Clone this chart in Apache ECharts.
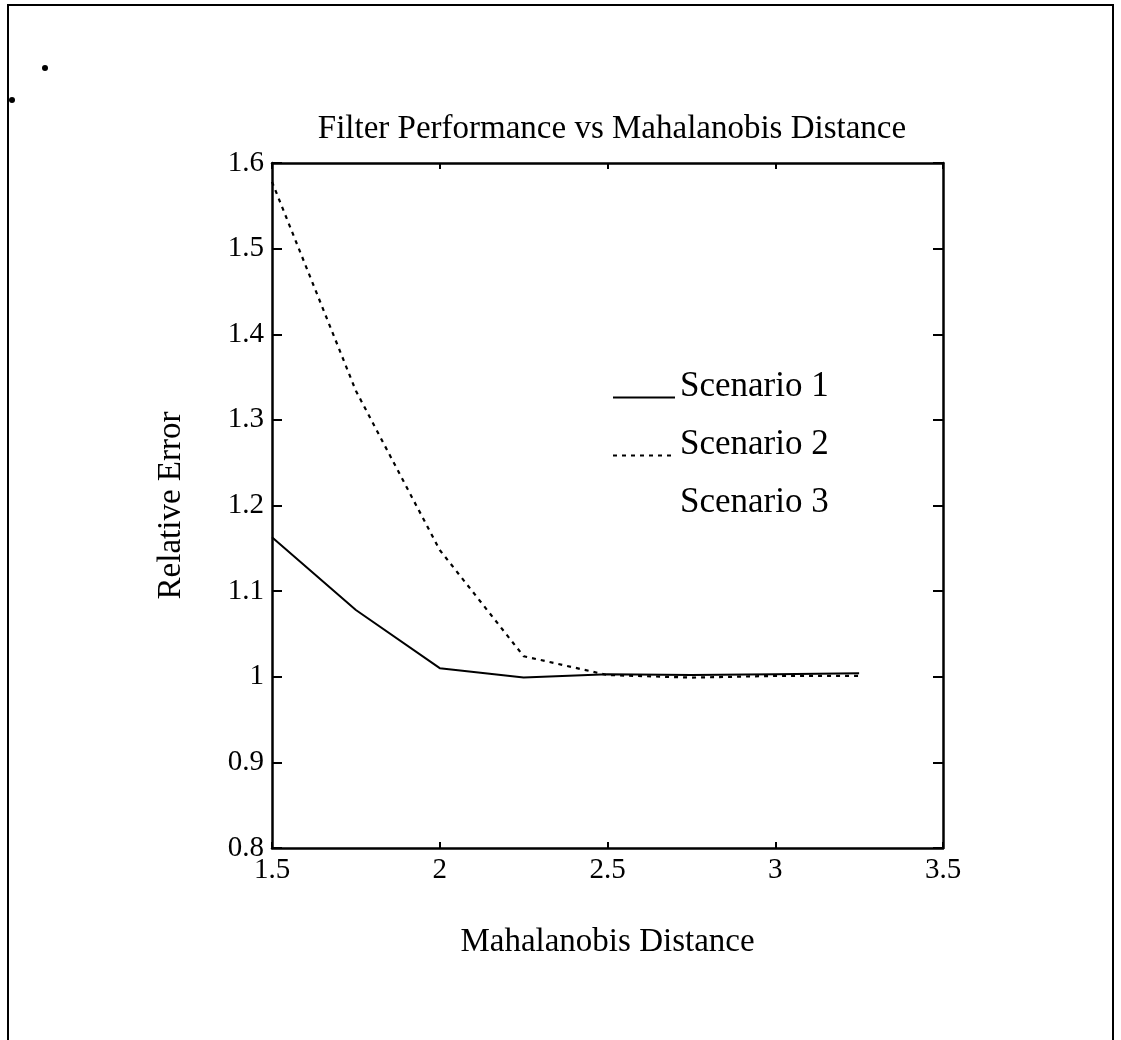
<!DOCTYPE html>
<html>
<head>
<meta charset="utf-8">
<title>Filter Performance vs Mahalanobis Distance</title>
<script src="https://cdn.jsdelivr.net/npm/echarts@6/dist/echarts.min.js"></script>
<style>
	html, body { margin: 0; padding: 0; background: #fff; }
	#myChart { width: 1121px; height: 1040px; }
</style>
</head>
<body>
<div id="myChart"></div>
<script>
// values
var distance = [1.5, 1.75, 2.0, 2.25, 2.5, 2.75, 3.0, 3.25];
var scenario1 = [1.163, 1.078, 1.010, 0.999, 1.003, 1.002, 1.003, 1.004];
var scenario2 = [1.578, 1.334, 1.148, 1.024, 1.002, 0.999, 1.001, 1.001];
var scenario3 = [];
var xTicks = ['1.5', '2', '2.5', '3', '3.5'];
var yTicks = ['0.8', '0.9', '1', '1.1', '1.2', '1.3', '1.4', '1.5', '1.6'];
var names = ['Scenario 1', 'Scenario 2', 'Scenario 3'];

(function(window, undefined) {
	var font = '"Liberation Serif", "Times New Roman", serif';

	var pairs = function(xs, ys) {
		var out = [];
		for (var i = 0; i < ys.length; i++) {
			out.push([xs[i], ys[i]]);
		}
		return out;
	};

	var axisLine = { show: true, onZero: false, lineStyle: { color: '#000', width: 2.5 } };

	// one legend per entry; the empty second text line lifts the name
	// so the sample line ends up on its baseline, like the original
	var legendAt = function(name, top) {
		return {
			data: [name],
			orient: 'vertical',
			left: 607,
			top: top,
			itemWidth: 62,
			itemHeight: 12,
			selectedMode: false,
			itemStyle: { opacity: 0 },
			formatter: function(n) { return n + '\n'; },
			textStyle: { fontFamily: font, fontSize: 35, lineHeight: 22, color: '#000' }
		};
	};

	var chart = function() {
		var myChart = echarts.init(document.getElementById('myChart'));
		var option = {
			backgroundColor: '#fff',
			animation: false,
			title: {
				text: 'Filter Performance vs Mahalanobis Distance',
				left: 607,
				top: 108,
				textAlign: 'center',
				textStyle: { fontFamily: font, fontSize: 33, fontWeight: 'normal', color: '#000' }
			},
			legend: [
				legendAt(names[0], 364),
				legendAt(names[1], 422),
				legendAt(names[2], 480)
			],
			grid: { left: 272, right: 178, top: 163, bottom: 192 },
			xAxis: [{
				type: 'value',
				min: 1.5,
				max: 3.5,
				interval: 0.5,
				name: 'Mahalanobis Distance',
				nameLocation: 'middle',
				nameGap: 78,
				nameTextStyle: { fontFamily: font, fontSize: 33, color: '#000' },
				axisLine: axisLine,
				axisTick: { show: true, inside: true, length: 6, lineStyle: { color: '#000', width: 2 } },
				axisLabel: {
					fontFamily: font, fontSize: 29, color: '#000', margin: 8,
					formatter: function(v) { return xTicks[Math.round((v - 1.5) / 0.5)]; }
				},
				splitLine: { show: false }
			}, {
				type: 'value',
				position: 'top',
				min: 1.5,
				max: 3.5,
				interval: 0.5,
				axisLine: axisLine,
				axisTick: { show: true, inside: true, length: 6, lineStyle: { color: '#000', width: 2 } },
				axisLabel: { show: false },
				splitLine: { show: false }
			}],
			yAxis: [{
				type: 'value',
				min: 0.8,
				max: 1.6,
				interval: 0.1,
				name: 'Relative Error',
				nameLocation: 'middle',
				nameGap: 84,
				nameTextStyle: { fontFamily: font, fontSize: 33, color: '#000' },
				axisLine: axisLine,
				axisTick: { show: true, inside: true, length: 10, lineStyle: { color: '#000', width: 2 } },
				axisLabel: {
					fontFamily: font, fontSize: 29, color: '#000', margin: 8,
					formatter: function(v) { return yTicks[Math.round((v - 0.8) / 0.1)]; }
				},
				splitLine: { show: false }
			}, {
				type: 'value',
				position: 'right',
				min: 0.8,
				max: 1.6,
				interval: 0.1,
				axisLine: axisLine,
				axisTick: { show: true, inside: true, length: 10, lineStyle: { color: '#000', width: 2 } },
				axisLabel: { show: false },
				splitLine: { show: false }
			}],
			series: [{
				name: names[0],
				type: 'line',
				symbol: 'none',
				data: pairs(distance, scenario1),
				lineStyle: { color: '#000', width: 2 },
				itemStyle: { color: '#000' }
			}, {
				name: names[1],
				type: 'line',
				symbol: 'none',
				data: pairs(distance, scenario2),
				lineStyle: { color: '#000', width: 2.2, type: [4, 5] },
				itemStyle: { color: '#000' }
			}, {
				name: names[2],
				type: 'line',
				symbol: 'none',
				data: pairs(distance, scenario3),
				lineStyle: { color: '#000', width: 2, opacity: 0 },
				itemStyle: { color: '#000', opacity: 0 }
			}],
			graphic: [{
				// page frame of the scan
				type: 'rect',
				silent: true,
				shape: { x: 8, y: 5, width: 1105, height: 1100 },
				style: { fill: 'none', stroke: '#000', lineWidth: 2 }
			}, {
				type: 'circle',
				silent: true,
				shape: { cx: 45, cy: 68, r: 3 },
				style: { fill: '#000' }
			}, {
				type: 'circle',
				silent: true,
				shape: { cx: 12, cy: 100, r: 3 },
				style: { fill: '#000' }
			}]
		};
		myChart.setOption(option);
	};

	chart();
})(window);
</script>
</body>
</html>
